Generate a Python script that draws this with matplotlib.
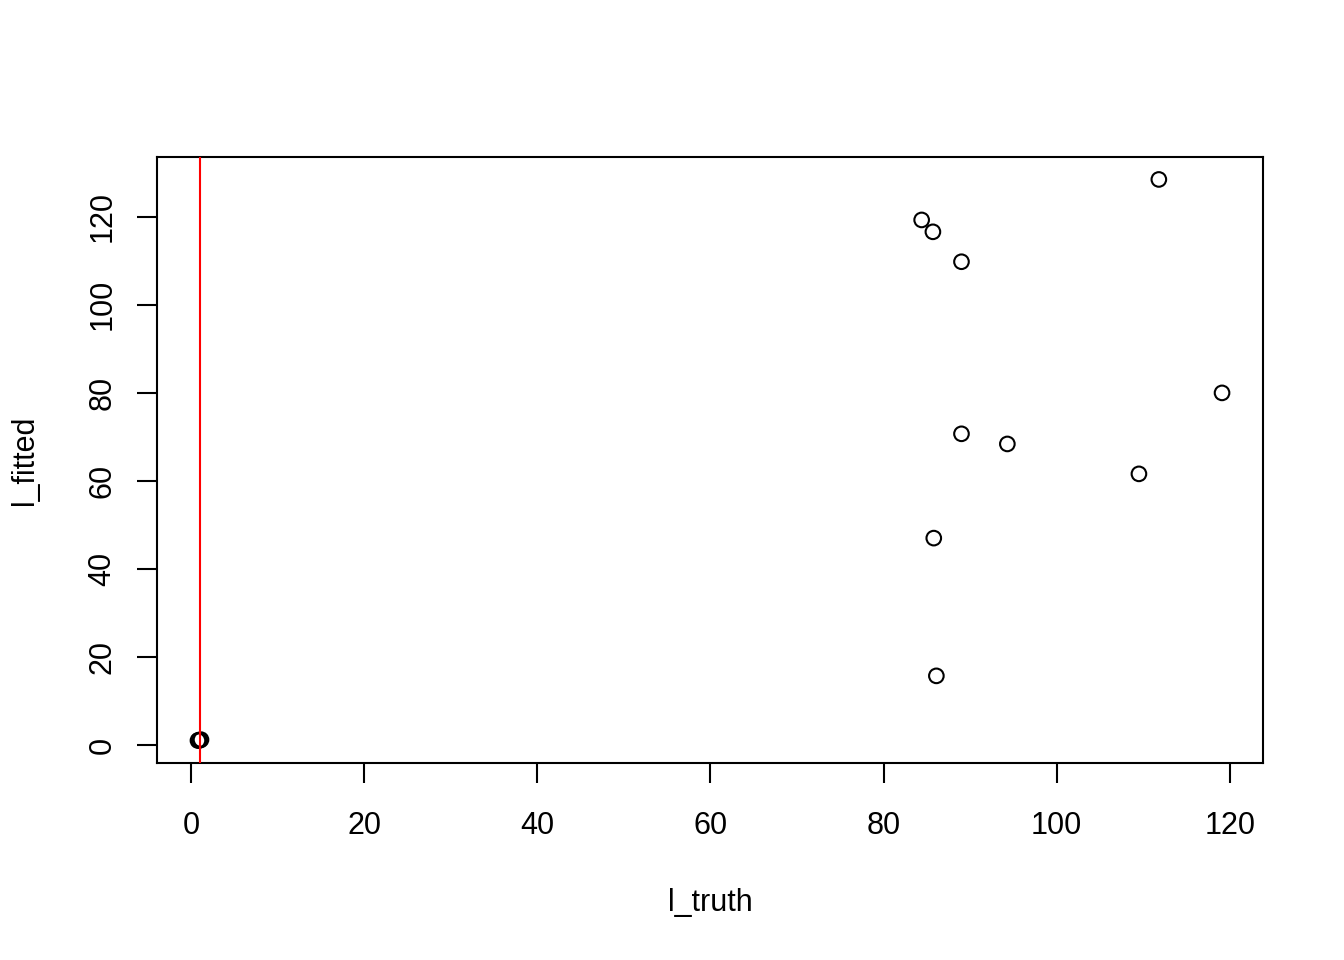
import matplotlib
matplotlib.use("Agg")
import matplotlib.pyplot as plt

l_truth = [84.4, 85.7, 89.0, 111.8, 119.1, 89.0, 94.3, 109.5, 85.8, 86.1,
           0.8, 0.9, 1.0, 1.15]
l_fitted = [119.3, 116.6, 109.8, 128.5, 80.0, 70.7, 68.4, 61.6, 47.0, 15.7,
            1.0, 1.1, 1.05, 1.2]
x_ticks = [0, 20, 40, 60, 80, 100, 120]
y_ticks = [0, 20, 40, 60, 80, 100, 120]
vline_x = 1

plt.rcParams['font.family'] = ['Liberation Sans', 'DejaVu Sans']
fig = plt.figure(figsize=(13.44, 9.6), dpi=100)
ax = fig.add_axes([157/1344, 1-763/960, (1263-157)/1344, (763-157)/960])

ax.scatter(l_truth, l_fitted, s=10.5**2, facecolors='none', edgecolors='black',
           linewidths=1.5, zorder=3)
ax.axvline(vline_x, color='red', lw=1.5, zorder=4)

xmin, xmax = min(l_truth), max(l_truth)
ymin, ymax = min(l_fitted), max(l_fitted)
dx = (xmax - xmin) * 0.04
dy = (ymax - ymin) * 0.04
ax.set_xlim(xmin - dx, xmax + dx)
ax.set_ylim(ymin - dy, ymax + dy)

ax.set_xticks(x_ticks)
ax.set_yticks(y_ticks)
ax.set_yticklabels([str(v) for v in y_ticks], rotation=90, va='center')
ax.tick_params(axis='both', length=14.4, width=1.5, labelsize=22)
ax.tick_params(axis='x', pad=20)
ax.tick_params(axis='y', pad=14)
for sp in ax.spines.values():
    sp.set_linewidth(1.5)

ax.set_xlabel('l_truth', fontsize=22, labelpad=34)
ax.set_ylabel('l_fitted', fontsize=22, labelpad=34)

fig.savefig('out.png', dpi=100)
